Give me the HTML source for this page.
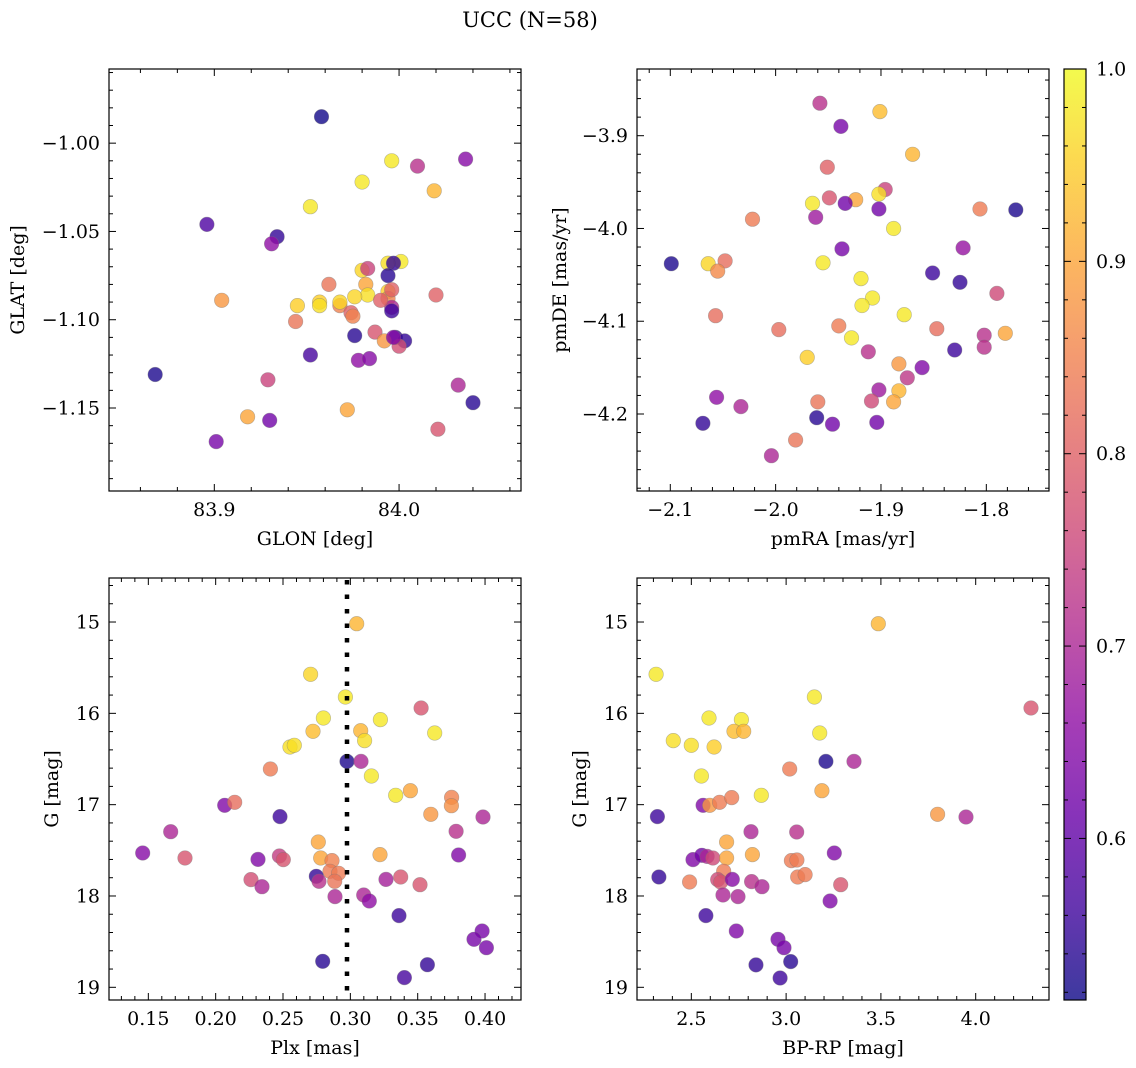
<!DOCTYPE html>
<html><head><meta charset="utf-8"><style>
body{margin:0;background:#fff;}
svg{display:block;font-family:"DejaVu Serif","Liberation Serif",serif;}
</style></head><body>
<svg id="fig" width="1136" height="1068" viewBox="0 0 1136 1068" xmlns="http://www.w3.org/2000/svg">
<text x="530" y="27" font-size="21" text-anchor="middle">UCC (N=58)</text>
</svg>
<script>
// ---- data ----
const glon = [83.958,83.996,84.010,84.036,83.980,84.019,83.952,83.896,83.934,83.931,84.001,83.994,83.997,83.962,83.980,83.983,83.994,83.982,83.994,83.983,83.976,83.904,83.945,83.957,83.957,83.968,83.968,83.974,83.975,83.994,83.996,83.990,83.996,83.944,83.976,83.987,83.998,84.003,84.000,83.992,84.020,83.978,83.984,83.952,83.997,83.929,83.868,84.032,84.040,83.972,83.918,83.930,84.021,83.901,83.996];
const glat = [-0.985,-1.010,-1.013,-1.009,-1.022,-1.027,-1.036,-1.046,-1.053,-1.057,-1.067,-1.068,-1.068,-1.080,-1.072,-1.071,-1.075,-1.080,-1.084,-1.086,-1.087,-1.089,-1.092,-1.090,-1.092,-1.092,-1.090,-1.096,-1.098,-1.088,-1.093,-1.089,-1.095,-1.101,-1.109,-1.107,-1.110,-1.112,-1.115,-1.112,-1.086,-1.123,-1.122,-1.120,-1.110,-1.134,-1.131,-1.137,-1.147,-1.151,-1.155,-1.157,-1.162,-1.169,-1.083];
const probTL = [0.52,0.98,0.72,0.65,0.98,0.92,0.98,0.58,0.55,0.66,0.98,0.97,0.55,0.83,0.96,0.75,0.54,0.9,0.95,0.97,0.96,0.88,0.95,0.95,0.97,0.85,0.96,0.8,0.85,0.85,0.7,0.8,0.56,0.83,0.54,0.78,0.55,0.55,0.77,0.88,0.8,0.66,0.65,0.57,0.65,0.75,0.53,0.7,0.54,0.9,0.9,0.62,0.78,0.63,0.8];

const pmra = [-1.958,-1.901,-1.938,-1.870,-1.951,-1.896,-1.902,-1.949,-1.924,-1.965,-1.934,-1.902,-1.806,-1.772,-2.022,-1.962,-1.888,-1.937,-1.822,-2.099,-2.064,-2.048,-2.055,-1.955,-1.919,-1.851,-1.825,-1.790,-1.908,-1.918,-1.878,-2.057,-1.997,-1.940,-1.847,-1.802,-1.782,-1.928,-1.830,-1.802,-1.912,-1.970,-1.861,-1.883,-1.875,-1.902,-1.883,-1.909,-1.888,-1.960,-2.056,-2.033,-2.069,-1.961,-1.946,-1.904,-1.981,-2.004];
const pmde = [-3.865,-3.874,-3.890,-3.920,-3.934,-3.958,-3.963,-3.967,-3.969,-3.973,-3.973,-3.979,-3.979,-3.980,-3.990,-3.988,-4.000,-4.022,-4.021,-4.038,-4.038,-4.035,-4.046,-4.037,-4.054,-4.048,-4.058,-4.070,-4.075,-4.083,-4.093,-4.094,-4.109,-4.105,-4.108,-4.115,-4.113,-4.118,-4.131,-4.128,-4.133,-4.139,-4.150,-4.146,-4.161,-4.174,-4.175,-4.186,-4.187,-4.187,-4.182,-4.192,-4.210,-4.204,-4.211,-4.209,-4.228,-4.245];
const probTR = [0.72,0.93,0.63,0.92,0.8,0.75,0.97,0.78,0.9,0.98,0.62,0.62,0.84,0.53,0.84,0.68,0.98,0.63,0.67,0.53,0.96,0.82,0.86,0.98,0.98,0.56,0.55,0.76,0.98,0.98,0.98,0.82,0.82,0.84,0.82,0.72,0.9,0.98,0.56,0.72,0.72,0.95,0.64,0.88,0.73,0.68,0.92,0.76,0.9,0.83,0.66,0.7,0.55,0.54,0.62,0.62,0.83,0.7];

const plx = [0.3047,0.2705,0.2963,0.3525,0.2800,0.3223,0.2723,0.3077,0.3626,0.3106,0.2552,0.2584,0.2975,0.3079,0.2406,0.3156,0.3337,0.3446,0.2067,0.2141,0.3752,0.3750,0.3597,0.2478,0.3985,0.1666,0.3785,0.1458,0.1772,0.2762,0.2780,0.3220,0.3804,0.2314,0.2473,0.2502,0.2864,0.2849,0.2913,0.2747,0.2767,0.2884,0.2262,0.2344,0.3265,0.3374,0.3517,0.2886,0.3099,0.3141,0.3361,0.3978,0.3918,0.4010,0.2795,0.3572,0.3401];
const gmagBL = [15.018,15.573,15.821,15.942,16.051,16.069,16.197,16.190,16.215,16.299,16.369,16.350,16.526,16.526,16.609,16.686,16.898,16.847,17.007,16.974,16.920,17.011,17.106,17.131,17.135,17.296,17.292,17.529,17.584,17.409,17.584,17.547,17.551,17.599,17.562,17.602,17.613,17.730,17.752,17.785,17.839,17.839,17.821,17.898,17.818,17.792,17.876,18.007,17.989,18.055,18.215,18.383,18.474,18.566,18.715,18.752,18.894];
const probBL = [0.92,0.96,0.98,0.78,0.98,0.98,0.93,0.92,0.98,0.97,0.97,0.97,0.53,0.7,0.84,0.98,0.98,0.9,0.64,0.82,0.85,0.87,0.88,0.56,0.7,0.7,0.72,0.65,0.78,0.9,0.9,0.9,0.64,0.64,0.74,0.78,0.85,0.84,0.84,0.55,0.72,0.83,0.77,0.7,0.69,0.78,0.78,0.7,0.7,0.66,0.56,0.63,0.63,0.63,0.54,0.55,0.57];
const plxLimit = 0.2975;

const bprp = [3.486,2.314,3.149,4.292,2.593,2.764,2.725,2.776,3.177,2.405,2.500,2.620,3.210,3.358,3.019,2.553,2.869,3.189,2.562,2.597,2.649,2.713,3.799,2.321,3.949,2.815,3.056,2.686,2.509,2.556,2.583,2.614,2.686,2.822,3.254,3.028,3.057,2.329,2.491,2.671,2.639,2.655,2.716,2.818,2.873,3.061,3.100,3.288,2.667,2.746,3.232,2.577,2.737,2.957,2.989,3.024,2.841,2.968];
const gmagBR = [15.018,15.573,15.821,15.942,16.051,16.069,16.197,16.197,16.215,16.299,16.350,16.369,16.526,16.526,16.609,16.686,16.898,16.847,17.007,17.007,16.974,16.923,17.106,17.131,17.135,17.296,17.299,17.409,17.602,17.555,17.566,17.584,17.584,17.547,17.529,17.613,17.606,17.792,17.847,17.730,17.821,17.847,17.818,17.843,17.898,17.792,17.766,17.876,17.989,18.007,18.055,18.215,18.383,18.474,18.566,18.719,18.755,18.898];
const probBR = [0.92,0.98,0.98,0.78,0.98,0.98,0.93,0.92,0.98,0.97,0.97,0.95,0.53,0.7,0.84,0.98,0.98,0.9,0.64,0.88,0.84,0.84,0.88,0.56,0.7,0.7,0.72,0.9,0.64,0.62,0.7,0.76,0.9,0.9,0.64,0.84,0.84,0.55,0.84,0.84,0.76,0.78,0.65,0.72,0.7,0.84,0.84,0.78,0.7,0.7,0.64,0.56,0.64,0.63,0.63,0.54,0.55,0.56];

const cbTicks = [0.6,0.7,0.8,0.9,1.0];
const cMin = 0.516, cMax = 1.0;

// ---- helpers ----
const NS = "http://www.w3.org/2000/svg";
const fig = document.getElementById('fig');
const FS = 19;
function mk(tag, attrs, parent){const e=document.createElementNS(NS,tag);for(const k in attrs)e.setAttribute(k,attrs[k]);(parent||fig).appendChild(e);return e;}
const plasma=[[13,8,135],[65,4,157],[106,0,168],[143,13,164],[177,42,144],[204,71,120],[225,100,98],[242,132,75],[252,166,54],[252,206,37],[240,249,33]];
function cmap(v){let t=(v-cMin)/(cMax-cMin);t=Math.max(0,Math.min(1,t))*10;const i=Math.min(9,Math.floor(t)),f=t-i;const a=plasma[i],b=plasma[i+1];return `rgb(${Math.round(a[0]+(b[0]-a[0])*f)},${Math.round(a[1]+(b[1]-a[1])*f)},${Math.round(a[2]+(b[2]-a[2])*f)})`;}
function fmt(v,d){const s=Math.abs(v).toFixed(d);return (v<0?"\u2212":"")+s;}

function panel(o){
  const {x0,y0,w,h,xmin,xmax,ymin,ymax,name}=o;
  const sx=v=>x0+(v-xmin)/(xmax-xmin)*w;
  const sy=v=>y0+(v-ymin)/(ymax-ymin)*h;
  const g=mk('g',{});
  
  
  const pts=mk('g',{},g);
  
  
  for(let i=0;i<o.xs.length;i++){
    const c=mk('circle',{cx:sx(o.xs[i]).toFixed(1),cy:sy(o.ys[i]).toFixed(1),r:7.3,fill:cmap(o.cs[i]),'fill-opacity':0.8,stroke:'#777','stroke-opacity':0.5,'stroke-width':0.6},pts);
    
    
  }
  if(o.vline!==undefined){
    const l=mk('line',{x1:sx(o.vline),x2:sx(o.vline),y1:y0+2,y2:y0+h,stroke:'#000','stroke-width':4.5,'stroke-dasharray':'4.5 10'},g);
    
    
  }
  const fr=mk('rect',{x:x0,y:y0,width:w,height:h,fill:'none',stroke:'#000','stroke-width':1.2},g);
  
  
  const tk=mk('g',{stroke:'#000','stroke-width':1},g);
  
  
  const lo=Math.min(xmin,xmax),hi=Math.max(xmin,xmax);
  for(let k=Math.ceil(lo/o.xminor-1e-6);k*o.xminor<=hi+1e-9;k++){
    const v=k*o.xminor;const isMaj=Math.abs(v/o.xmajor-Math.round(v/o.xmajor))<1e-6;const L=isMaj?7:4;const X=sx(v);
    mk('line',{x1:X,x2:X,y1:y0+h,y2:y0+h-L},tk);mk('line',{x1:X,x2:X,y1:y0,y2:y0+L},tk);
  }
  const ylo=Math.min(ymin,ymax),yhi=Math.max(ymin,ymax);
  for(let k=Math.ceil(ylo/o.yminor-1e-6);k*o.yminor<=yhi+1e-9;k++){
    const v=k*o.yminor;const isMaj=Math.abs(v/o.ymajor-Math.round(v/o.ymajor))<1e-6;const L=isMaj?7:4;const Y=sy(v);
    mk('line',{x1:x0,x2:x0+L,y1:Y,y2:Y},tk);mk('line',{x1:x0+w,x2:x0+w-L,y1:Y,y2:Y},tk);
  }
  o.xticks.forEach(v=>{const t=mk('text',{x:sx(v),y:y0+h+25,'font-size':FS,'text-anchor':'middle'},g);t.textContent=fmt(v,o.xdec);
    
    });
  o.yticks.forEach(v=>{const t=mk('text',{x:x0-9,y:sy(v)+6.5,'font-size':FS,'text-anchor':'end'},g);t.textContent=fmt(v,o.ydec);
    
    });
  const xl=mk('text',{x:x0+w/2,y:y0+h+54,'font-size':FS,'text-anchor':'middle'},g);xl.textContent=o.xlabel;
  
  
  const yx=o.ylx,yy=y0+h/2;
  const yl=mk('text',{x:yx,y:yy,'font-size':FS,'text-anchor':'middle',transform:`rotate(-90 ${yx} ${yy})`},g);yl.textContent=o.ylabel;
  
  
}

panel({name:'glon-glat-panel',x0:109,y0:69,w:412,h:422,xmin:83.843,xmax:84.066,ymin:-0.958,ymax:-1.197,xs:glon,ys:glat,cs:probTL,
  xmajor:0.1,xminor:0.02,ymajor:0.05,yminor:0.01,xticks:[83.9,84.0],yticks:[-1.00,-1.05,-1.10,-1.15],xdec:1,ydec:2,xlabel:'GLON [deg]',ylabel:'GLAT [deg]',ylx:24});
panel({name:'pm-panel',x0:637,y0:69,w:412,h:422,xmin:-2.1316,xmax:-1.7405,ymin:-3.8281,ymax:-4.2830,xs:pmra,ys:pmde,cs:probTR,
  xmajor:0.1,xminor:0.02,ymajor:0.1,yminor:0.02,xticks:[-2.1,-2.0,-1.9,-1.8],yticks:[-3.9,-4.0,-4.1,-4.2],xdec:1,ydec:1,xlabel:'pmRA [mas/yr]',ylabel:'pmDE [mas/yr]',ylx:566});
panel({name:'plx-g-panel',x0:109,y0:578,w:412,h:422,xmin:0.1208,xmax:0.4267,ymin:14.518,ymax:19.139,xs:plx,ys:gmagBL,cs:probBL,vline:plxLimit,
  xmajor:0.05,xminor:0.01,ymajor:1,yminor:0.2,xticks:[0.15,0.20,0.25,0.30,0.35,0.40],yticks:[15,16,17,18,19],xdec:2,ydec:0,xlabel:'Plx [mas]',ylabel:'G [mag]',ylx:58});
panel({name:'cmd-panel',x0:637,y0:578,w:412,h:422,xmin:2.2134,xmax:4.3867,ymin:14.518,ymax:19.139,xs:bprp,ys:gmagBR,cs:probBR,
  xmajor:0.5,xminor:0.1,ymajor:1,yminor:0.2,xticks:[2.5,3.0,3.5,4.0],yticks:[15,16,17,18,19],xdec:1,ydec:0,xlabel:'BP-RP [mag]',ylabel:'G [mag]',ylx:586});

// ---- colorbar ----
const cb=mk('g',{});


const defs=mk('defs',{},cb);
const grad=mk('linearGradient',{id:'plasmaG',x1:0,y1:1,x2:0,y2:0},defs);
for(let i=0;i<=20;i++){const v=cMin+(cMax-cMin)*i/20;mk('stop',{offset:i/20,'stop-color':cmap(v),'stop-opacity':0.8},grad);}
const cbx=1064,cby=69,cbw=22,cbh=931;
mk('rect',{x:cbx,y:cby,width:cbw,height:cbh,fill:'url(#plasmaG)',stroke:'#000','stroke-width':1.2},cb);
const csy=v=>cby+cbh-(v-cMin)/(cMax-cMin)*cbh;
for(let k=Math.ceil(cMin/0.02);k*0.02<=cMax+1e-9;k++){const v=k*0.02;const maj=Math.abs(v*10-Math.round(v*10))<1e-6;const Y=csy(v);
  mk('line',{x1:cbx+cbw,x2:cbx+cbw-(maj?7:4),y1:Y,y2:Y,stroke:'#000','stroke-width':1},cb);
  mk('line',{x1:cbx,x2:cbx+(maj?7:4),y1:Y,y2:Y,stroke:'#000','stroke-width':1},cb);}
cbTicks.forEach(v=>{const t=mk('text',{x:cbx+cbw+10,y:csy(v)+6.5,'font-size':FS},cb);t.textContent=v.toFixed(1);
  
  });
</script>
</body></html>
